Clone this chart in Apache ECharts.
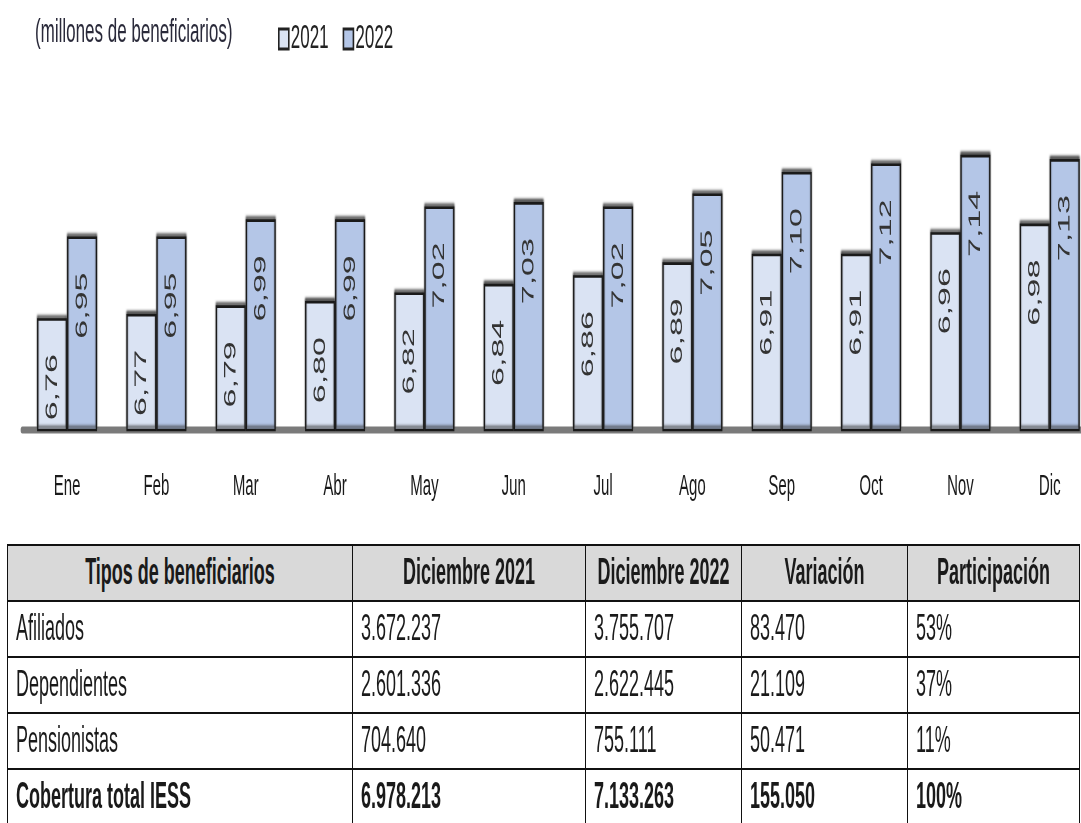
<!DOCTYPE html>
<html>
<head>
<meta charset="utf-8">
<script src="https://cdn.jsdelivr.net/npm/echarts@6/dist/echarts.min.js"></script>
<style>
  html, body { margin: 0; padding: 0; background: #ffffff; overflow: hidden; }
  #wrap {
    position: absolute; left: 0; top: 0;
    width: 1081px; height: 411.5px;
    transform: scaleY(2); transform-origin: 0 0;
    overflow: hidden;
  }
  #chart { position: absolute; left: 0; top: 0; width: 1110px; height: 265px; }
  #tbl {
    position: absolute; left: 7px; top: 271.5px;
    border-collapse: collapse; table-layout: fixed;
    font-family: "Liberation Sans Narrow", "Liberation Sans", Roboto, sans-serif;
    font-size: 18px; color: #1a1a1a;
  }
  #tbl td, #tbl th {
    border: 1.5px solid #111;
    height: 27px; padding: 0 0 0 8px; line-height: 27px;
    white-space: nowrap; overflow: hidden;
  }
  #tbl th { background: #d9d9d9; font-weight: bold; text-align: center; padding: 0; }
  #tbl td { text-align: left; }
  #tbl tr.total td { font-weight: bold; }
</style>
</head>
<body>
<div id="wrap">
  <div id="chart"></div>
  <table id="tbl"></table>
</div>
<script>
// ---- Data ----
const months = ['Ene','Feb','Mar','Abr','May','Jun','Jul','Ago','Sep','Oct','Nov','Dic'];
const values2021 = [6.76, 6.77, 6.79, 6.80, 6.82, 6.84, 6.86, 6.89, 6.91, 6.91, 6.96, 6.98];
const values2022 = [6.95, 6.95, 6.99, 6.99, 7.02, 7.03, 7.02, 7.05, 7.10, 7.12, 7.14, 7.13];
const seriesNames = ['2021', '2022'];
const unitLabel = '(millones de beneficiarios)';

const tableHeaders = ['Tipos de beneficiarios', 'Diciembre 2021', 'Diciembre 2022', 'Variación', 'Participación'];
const tableTypes = ['Afiliados', 'Dependientes', 'Pensionistas', 'Cobertura total IESS'];
const tableDic2021 = ['3.672.237', '2.601.336', '704.640', '6.978.213'];
const tableDic2022 = ['3.755.707', '2.622.445', '755.111', '7.133.263'];
const tableVariacion = ['83.470', '21.109', '50.471', '155.050'];
const tableParticipacion = ['53%', '37%', '11%', '100%'];

// ---- Table ----
const colWidths = [345, 233, 156, 166, 172];
const tbl = document.getElementById('tbl');
const cg = document.createElement('colgroup');
colWidths.forEach(w => { const c = document.createElement('col'); c.style.width = w + 'px'; cg.appendChild(c); });
tbl.appendChild(cg);
const hr = document.createElement('tr');
tableHeaders.forEach(h => { const th = document.createElement('th'); th.textContent = h; hr.appendChild(th); });
tbl.appendChild(hr);
tableTypes.forEach((t, i) => {
  const tr = document.createElement('tr');
  if (i === tableTypes.length - 1) tr.className = 'total';
  [t, tableDic2021[i], tableDic2022[i], tableVariacion[i], tableParticipacion[i]].forEach(v => {
    const td = document.createElement('td'); td.textContent = v; tr.appendChild(td);
  });
  tbl.appendChild(tr);
});

// ---- Chart ----
const FONT = '"Liberation Sans Narrow", "Liberation Sans", Roboto, sans-serif';
const chart = echarts.init(document.getElementById('chart'), null, { renderer: 'canvas', devicePixelRatio: 2 });

function barSeries(name, data, fill) {
  return {
    name: name,
    type: 'bar',
    data: data,
    barWidth: 30,
    barGap: '0%',
    itemStyle: {
      color: fill,
      borderColor: '#1a1a1a',
      borderWidth: 1.3,
      shadowColor: 'rgba(50,50,50,0.85)',
      shadowBlur: 1.5,
      shadowOffsetY: -1.5
    },
    label: {
      show: true,
      position: 'insideTop',
      distance: 18,
      rotate: 90,
      align: 'right',
      verticalAlign: 'middle',
      fontFamily: '"Liberation Sans", Arial, sans-serif',
      fontSize: 17,
      color: '#333333',
      formatter: p => p.value.toFixed(2).replace('.', ',')
    },
    emphasis: { disabled: true }
  };
}

chart.setOption({
  animation: false,
  backgroundColor: '#ffffff',
  title: {
    text: unitLabel,
    left: 35, top: 8, padding: 0,
    textStyle: { fontFamily: FONT, fontSize: 17, fontWeight: 'normal', color: '#2a2a3a' }
  },
  legend: {
    data: seriesNames,
    left: 278, top: 11, padding: 0,
    itemWidth: 10, itemHeight: 10, itemGap: 14,
    icon: 'rect',
    itemStyle: { borderColor: '#222', borderWidth: 1.6, shadowBlur: 0, shadowOffsetY: 0, shadowColor: 'transparent' },
    textStyle: { fontFamily: FONT, fontSize: 17, color: '#222', padding: [0, 0, 0, -3] }
  },
  grid: { left: 22.4, top: 43, width: 1072, height: 172, containLabel: false },
  xAxis: {
    type: 'category',
    data: months,
    boundaryGap: true,
    axisLine: { show: true, lineStyle: { color: '#7a7a7a', width: 3.5 } },
    axisTick: { show: false },
    axisLabel: { fontFamily: FONT, fontSize: 15, color: '#1a1a1a', margin: 21 }
  },
  yAxis: {
    type: 'value',
    min: 6.5, max: 7.3,
    show: false,
    splitLine: { show: false }
  },
  series: [
    barSeries(seriesNames[0], values2021, '#dae3f3'),
    barSeries(seriesNames[1], values2022, '#b4c6e7')
  ]
});
</script>
</body>
</html>
